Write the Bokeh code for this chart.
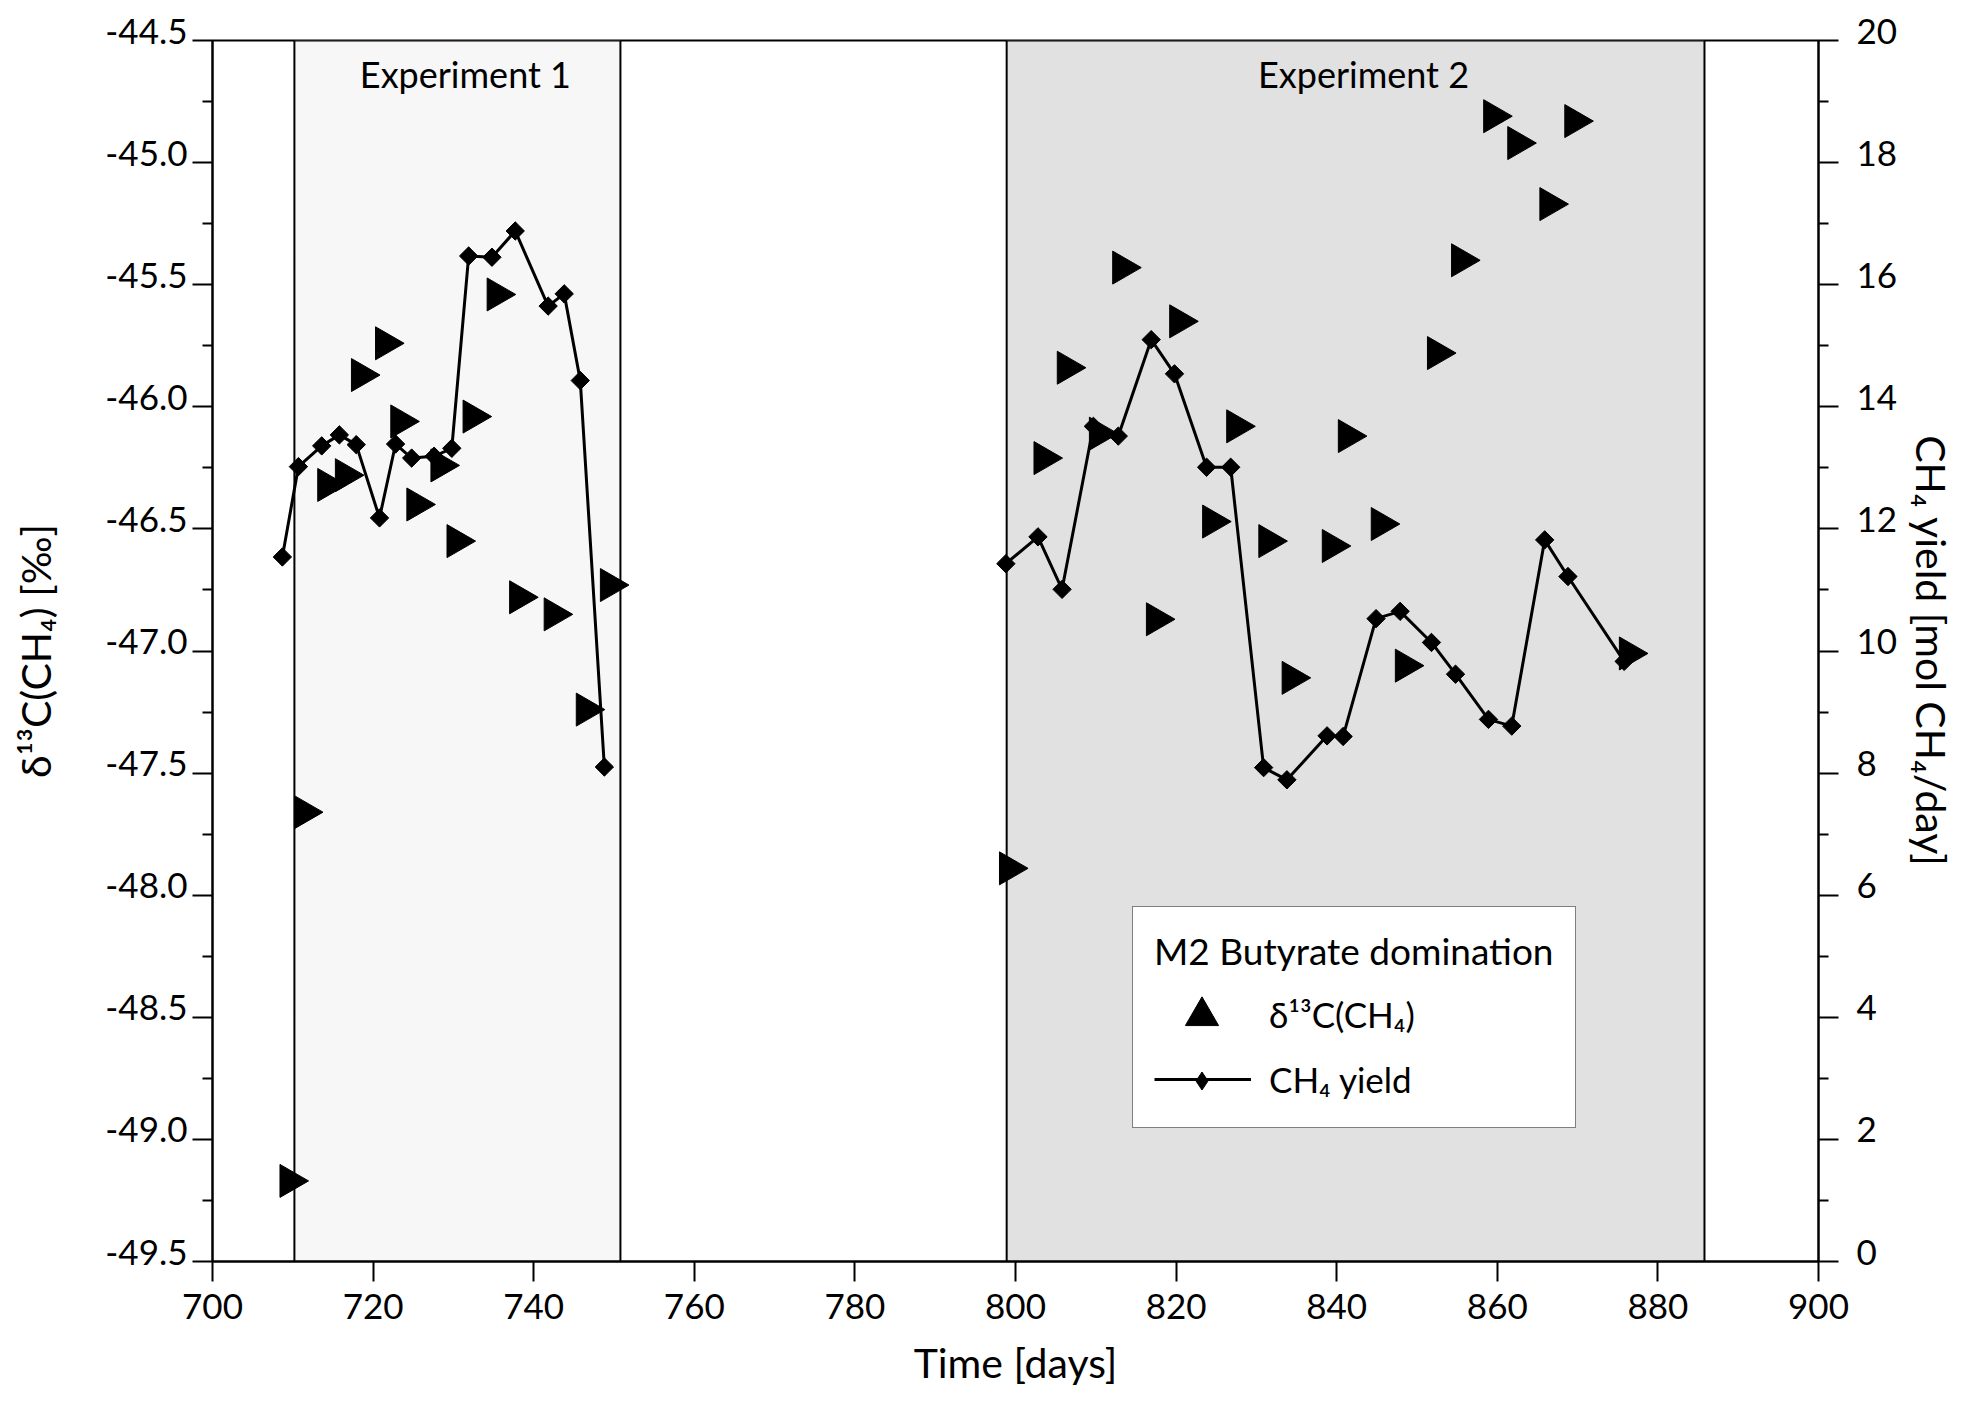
import math
from bokeh.plotting import figure
from bokeh.models import (Range1d, LinearAxis, FixedTicker, CustomJSTickFormatter,
                          ColumnDataSource, Legend, LegendItem)
from bokeh.transform import dodge
from bokeh.core.properties import value
from bokeh.embed import file_html
from bokeh.resources import INLINE

# ---------------- data ----------------
# delta13C(CH4) [permil]  (left axis)
d13c_t_exp1 = [709.0, 710.8, 713.7, 715.9, 717.9, 720.9, 722.8, 724.8, 727.8, 729.8,
               731.8, 734.8, 737.6, 741.9, 745.9, 748.9]
d13c_v_exp1 = [-49.17, -47.66, -46.32, -46.28, -45.87, -45.74, -46.06, -46.40, -46.24, -46.55,
               -46.04, -45.54, -46.78, -46.85, -47.24, -46.73]
d13c_t_exp2 = [798.6, 802.9, 805.8, 809.8, 812.7, 816.9, 819.8, 823.9, 826.9, 830.9, 833.8,
               838.8, 840.8, 844.9, 847.9, 851.9, 854.9, 858.9, 861.9, 865.9, 869.0, 875.8]
d13c_v_exp2 = [-47.89, -46.21, -45.84, -46.11, -45.43, -46.87, -45.65, -46.47, -46.08, -46.55, -47.11,
               -46.57, -46.12, -46.48, -47.06, -45.78, -45.40, -44.81, -44.92, -45.17, -44.83, -47.01]

# CH4 yield [mol CH4/day]  (right axis)
yield_t_exp1 = [708.7, 710.7, 713.6, 715.8, 717.9, 720.8, 722.8, 724.8, 727.6, 729.8,
                731.9, 734.8, 737.7, 741.8, 743.8, 745.8, 748.8]
yield_v_exp1 = [11.54, 13.02, 13.36, 13.54, 13.38, 12.18, 13.39, 13.16, 13.19, 13.32,
                16.47, 16.45, 16.88, 15.65, 15.85, 14.43, 8.10]
yield_t_exp2 = [798.8, 802.8, 805.8, 809.7, 812.8, 816.9, 819.8, 823.8, 826.8, 830.9, 833.8,
                838.8, 840.8, 844.9, 847.9, 851.8, 854.8, 858.9, 861.8, 865.9, 868.8, 875.8]
yield_v_exp2 = [11.43, 11.87, 11.01, 13.68, 13.52, 15.10, 14.54, 13.01, 13.01, 8.09, 7.89,
                8.61, 8.60, 10.53, 10.65, 10.14, 9.62, 8.88, 8.77, 11.82, 11.22, 9.83]

# experiment periods [days]
exp_names = ["Experiment 1", "Experiment 2"]
exp_start = [710.2, 798.9]
exp_end = [750.8, 885.8]
exp_fill = ["#f7f7f7", "#e1e1e1"]

# axes
x_ticks = [700, 720, 740, 760, 780, 800, 820, 840, 860, 880, 900]
left_ticks = [-49.5, -49.0, -48.5, -48.0, -47.5, -47.0, -46.5, -46.0, -45.5, -45.0, -44.5]
right_ticks = [0, 2, 4, 6, 8, 10, 12, 14, 16, 18, 20]

x_title = "Time [days]"
left_title = "δ¹³C(CH₄) [‰]"
right_title = "CH₄ yield [mol CH₄/day]"
legend_title = "M2 Butyrate domination"
legend_labels = ["δ¹³C(CH₄)", "CH₄ yield"]

FONT = "Lato"

p = figure(width=1960, height=1405, output_backend="svg", toolbar_location=None,
           x_range=Range1d(x_ticks[0], x_ticks[-1]),
           y_range=Range1d(left_ticks[0], left_ticks[-1]),
           min_border_left=212, min_border_right=142, min_border_top=40, min_border_bottom=144)
p.extra_y_ranges = {"yield": Range1d(right_ticks[0], right_ticks[-1])}
p.grid.visible = False
p.outline_line_color = "black"
p.outline_line_width = 2
p.background_fill_color = "white"
p.border_fill_color = "white"

# experiment boxes
exp_src = ColumnDataSource(dict(
    left=exp_start, right=exp_end,
    bottom=[left_ticks[0]] * len(exp_start), top=[left_ticks[-1]] * len(exp_start),
    fill=exp_fill, name=exp_names,
    cx=[(a + b) / 2 for a, b in zip(exp_start, exp_end)],
))
p.quad(left="left", right="right", bottom="bottom", top="top", source=exp_src,
       fill_color="fill", line_color="black", line_width=2)
p.text(x="cx", y="top", text="name", source=exp_src, x_offset=8, y_offset=33,
       text_align="center", text_baseline="middle",
       text_font=value(FONT), text_font_size="36px", text_color="black")

# CH4 yield lines with diamonds
y1 = ColumnDataSource(dict(t=yield_t_exp1, v=yield_v_exp1))
y2 = ColumnDataSource(dict(t=yield_t_exp2, v=yield_v_exp2))
line1 = p.line("t", "v", source=y1, y_range_name="yield", line_color="black", line_width=3)
line2 = p.line("t", "v", source=y2, y_range_name="yield", line_color="black", line_width=3)
# diamond-shaped key (used by the legend; sits inside the rotated squares)
dia_key = p.scatter("t", "v", source=y1, y_range_name="yield", marker="diamond",
                    size=17, fill_color="black", line_color="black")
dia1 = p.scatter("t", "v", source=y1, y_range_name="yield", marker="square", angle=math.pi / 4,
                 size=13, fill_color="black", line_color="black")
dia2 = p.scatter("t", "v", source=y2, y_range_name="yield", marker="square", angle=math.pi / 4,
                 size=13, fill_color="black", line_color="black")

# delta13C triangles (pointing right); dodge centers the triangle's box on the time
d_src = ColumnDataSource(dict(t=d13c_t_exp1 + d13c_t_exp2, v=d13c_v_exp1 + d13c_v_exp2))
tri = p.scatter(x=dodge("t", 0.59, range=p.x_range), y="v", source=d_src, marker="triangle",
                angle=-math.pi / 2, size=33, fill_color="black", line_color="black")

# ---------------- axes ----------------
def style_axis(ax):
    ax.axis_line_width = 2
    ax.axis_line_color = "black"
    ax.major_tick_line_width = 2
    ax.minor_tick_line_width = 2
    ax.major_tick_line_color = "black"
    ax.minor_tick_line_color = "black"
    ax.major_tick_in = 0
    ax.minor_tick_in = 0
    ax.major_tick_out = 20
    ax.minor_tick_out = 10
    ax.major_label_text_font = FONT
    ax.major_label_text_font_size = "35px"
    ax.major_label_text_color = "black"
    ax.axis_label_text_font = FONT
    ax.axis_label_text_font_size = "41px"
    ax.axis_label_text_font_style = "normal"
    ax.axis_label_text_color = "black"

xa = p.xaxis[0]
style_axis(xa)
xa.ticker = FixedTicker(ticks=x_ticks, minor_ticks=[])
xa.axis_label = x_title
xa.major_label_standoff = 12
xa.axis_label_standoff = 16

left_minor = [(a + b) / 2 for a, b in zip(left_ticks[:-1], left_ticks[1:])]
right_minor = [(a + b) / 2 for a, b in zip(right_ticks[:-1], right_ticks[1:])]

# vertical-axis tick labels sit a little above their ticks in the original:
# an empty second line with a tight line height lifts the number
ya = p.yaxis[0]
style_axis(ya)
ya.ticker = FixedTicker(ticks=left_ticks, minor_ticks=left_minor)
ya.formatter = CustomJSTickFormatter(code="return tick.toFixed(1) + '\\n'")
ya.major_label_text_line_height = 0.52
ya.major_label_standoff = 5
ya.axis_label = left_title
ya.axis_label_standoff = 42

ra = LinearAxis(y_range_name="yield")
style_axis(ra)
ra.ticker = FixedTicker(ticks=right_ticks, minor_ticks=right_minor)
ra.formatter = CustomJSTickFormatter(code="return tick.toFixed(0) + '\\n'")
ra.major_label_text_line_height = 0.52
ra.major_label_standoff = 18
ra.axis_label = right_title
ra.axis_label_standoff = 7
p.add_layout(ra, "right")

# ---------------- legend ----------------
legA = Legend(items=[LegendItem(label=legend_labels[0], renderers=[tri]),
                     LegendItem(label=legend_labels[1], renderers=[line1])],
              title=legend_title, location=(920, 133),
              glyph_width=97, glyph_height=54, label_height=40, spacing=11,
              padding=21, margin=0, label_standoff=18, title_standoff=14,
              label_text_font=FONT, label_text_font_size="35px", label_text_color="black",
              title_text_font=FONT, title_text_font_size="37px", title_text_font_style="normal",
              title_text_color="black",
              border_line_color="black", border_line_width=1.5,
              background_fill_color="white", background_fill_alpha=1.0)
p.add_layout(legA)

# larger triangle key drawn over the first entry
legC = Legend(items=[LegendItem(label=" ", renderers=[tri])],
              location=(948, 204), glyph_width=83, glyph_height=83, label_height=10,
              padding=0, margin=0, label_standoff=0, spacing=0,
              label_text_font_size="6px",
              border_line_alpha=0, background_fill_alpha=0)
p.add_layout(legC)

# diamond key on the line of the second entry
legB = Legend(items=[LegendItem(label=" ", renderers=[dia_key])],
              location=(967, 158), glyph_width=45, glyph_height=45, label_height=10,
              padding=0, margin=0, label_standoff=0, spacing=0,
              label_text_font_size="6px",
              border_line_alpha=0, background_fill_alpha=0)
p.add_layout(legB)

open("out.html", "w").write(file_html(p, INLINE))
